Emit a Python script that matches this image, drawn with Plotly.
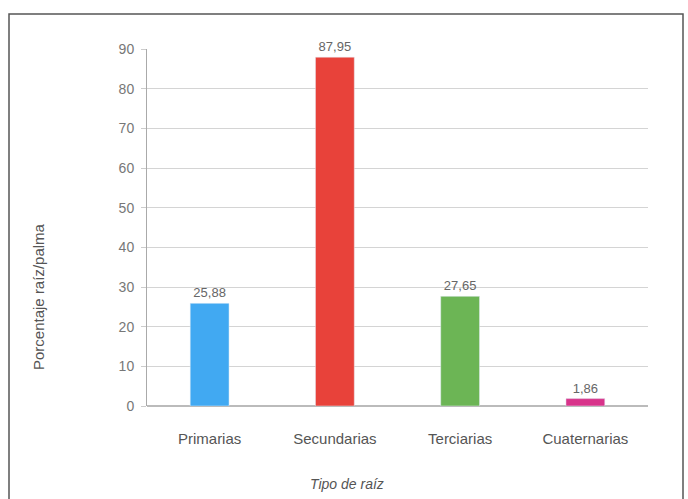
import plotly.graph_objects as go

categorias = ["Primarias", "Secundarias", "Terciarias", "Cuaternarias"]
valores = [25.88, 87.95, 27.65, 1.86]
colores = ["#41a9f2", "#e8423a", "#6cb555", "#d8338a"]
etiquetas = [f"{v:.2f}".replace(".", ",") for v in valores]
ticks_y = [0, 10, 20, 30, 40, 50, 60, 70, 80, 90]

W, H = 688, 499
ml, mr, mt, mb = 147, 40, 49, 93
pw, ph = W - ml - mr, H - mt - mb

fig = go.Figure(go.Bar(
    x=categorias, y=valores, marker_color=colores, width=0.31,
    text=etiquetas, textposition="outside", cliponaxis=False,
    textfont=dict(family="Liberation Sans, Arial", size=13, color="#666"),
))

fig.update_layout(
    width=W, height=H,
    margin=dict(l=ml, r=mr, t=mt, b=mb),
    paper_bgcolor="white", plot_bgcolor="white",
    showlegend=False,
    font=dict(family="Liberation Sans, Arial", size=12, color="#666"),
    xaxis=dict(showline=False, showgrid=False, ticks="", ticklabelstandoff=22,
               tickfont=dict(size=15, color="#555")),
    yaxis=dict(range=[0, 90], tickvals=ticks_y, showgrid=True, gridcolor="#d4d4d4",
               gridwidth=1, showline=True, linecolor="#aaa", ticks="outside",
               ticklen=5, tickcolor="#ccc", tickfont=dict(size=14, color="#777"),
               ticklabelstandoff=4,
               zeroline=True, zerolinecolor="#bbb"),
    bargap=0.69,
)

fig.add_annotation(text="Porcentaje raíz/palma", xref="paper", yref="paper",
                   x=-(ml - 38) / pw, y=(H - mb - 297) / ph, textangle=-90,
                   showarrow=False, xanchor="center", yanchor="middle",
                   font=dict(size=15, color="#555"))

fig.add_annotation(text="<i>Tipo de raíz</i>", xref="paper", yref="paper",
                   x=(347 - ml) / pw, y=-(484 - (H - mb)) / ph,
                   showarrow=False, xanchor="center", yanchor="middle",
                   font=dict(size=14, color="#555"))

fig.add_shape(type="rect", xref="paper", yref="paper",
              x0=-(ml - 9) / pw, x1=1 + (683 - (W - mr)) / pw,
              y0=-(510 - (H - mb)) / ph, y1=1 + (mt - 14) / ph,
              line=dict(color="#555", width=1.5), fillcolor="rgba(0,0,0,0)", layer="below")

fig.write_html("out.html")
